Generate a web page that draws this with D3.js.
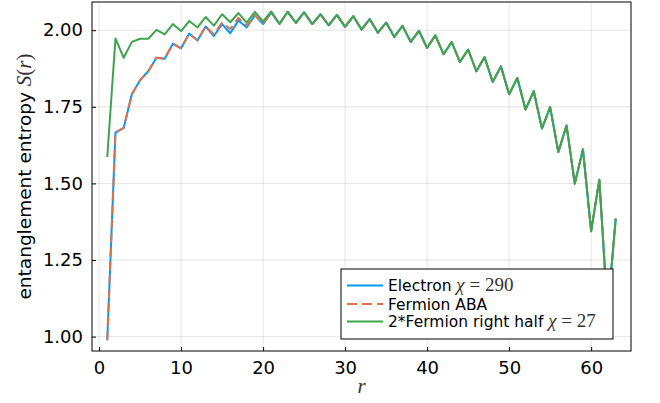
<!DOCTYPE html>
<html>
<head>
<meta charset="utf-8">
<script src="https://cdn.jsdelivr.net/npm/d3@7"></script>
<style>
  html, body { margin: 0; padding: 0; background: #fff; }
  svg { display: block; }
</style>
</head>
<body>
<div id="chart"></div>
<script>
// ---- data ----
const rValues = d3.range(1, 64);
const electron = [0.988,1.666,1.681,1.791,1.837,1.866,1.910,1.907,1.956,1.941,
  1.989,1.966,2.012,1.981,2.020,1.990,2.032,2.009,2.049,2.020,
  2.058,2.020,2.060,2.024,2.058,2.020,2.052,2.016,2.050,2.011,
  2.046,2.002,2.036,1.992,2.025,1.978,2.014,1.962,1.998,1.942,
  1.983,1.922,1.961,1.896,1.937,1.866,1.912,1.831,1.882,1.791,
  1.844,1.741,1.801,1.679,1.749,1.602,1.689,1.499,1.611,1.344,
  1.512,1.080,1.385];
const fermionABA = [0.988,1.666,1.681,1.791,1.837,1.866,1.910,1.907,1.956,1.941,
  1.989,1.967,2.013,1.986,2.025,2.004,2.040,2.015,2.049,2.020,
  2.058,2.020,2.060,2.024,2.058,2.020,2.052,2.016,2.050,2.011,
  2.046,2.002,2.036,1.992,2.025,1.978,2.014,1.962,1.998,1.942,
  1.983,1.922,1.961,1.896,1.937,1.866,1.912,1.831,1.882,1.791,
  1.844,1.741,1.801,1.679,1.749,1.602,1.689,1.499,1.611,1.344,
  1.512,1.080,1.385];
const fermionRightHalf = [1.586,1.973,1.910,1.962,1.972,1.972,2.001,1.986,2.020,1.997,
  2.030,2.009,2.043,2.015,2.052,2.026,2.056,2.025,2.060,2.029,
  2.061,2.021,2.060,2.024,2.058,2.020,2.052,2.016,2.050,2.011,
  2.046,2.002,2.036,1.992,2.025,1.978,2.014,1.962,1.998,1.942,
  1.983,1.922,1.961,1.896,1.937,1.866,1.912,1.831,1.882,1.791,
  1.844,1.741,1.801,1.679,1.749,1.602,1.689,1.499,1.611,1.344,
  1.512,1.080,1.385];
const xTicks = [0, 10, 20, 30, 40, 50, 60];
const yTicks = [1.00, 1.25, 1.50, 1.75, 2.00];
const seriesNames = ["Electron", "Fermion ABA", "2*Fermion right half"];
const seriesMath = ["290", null, "27"];

// ---- layout ----
const W = 660, H = 403;
const L = 92, R = 631, T = 2, B = 351;
const colors = ["#009AFA", "#E26F46", "#3EA44E"];

const svg = d3.select("#chart").append("svg")
  .attr("width", W).attr("height", H);

const x = d3.scaleLinear().domain([-0.86, 64.86]).range([L, R]);
const y = d3.scaleLinear().domain([0.953, 2.092]).range([B, T]);

// grid
const g = svg.append("g");
g.selectAll("line.gx").data(xTicks).join("line")
  .attr("x1", d => x(d)).attr("x2", d => x(d))
  .attr("y1", T).attr("y2", B)
  .attr("stroke", "#000").attr("stroke-opacity", 0.1).attr("stroke-width", 1);
g.selectAll("line.gy").data(yTicks).join("line")
  .attr("y1", d => y(d)).attr("y2", d => y(d))
  .attr("x1", L).attr("x2", R)
  .attr("stroke", "#000").attr("stroke-opacity", 0.1).attr("stroke-width", 1);

// lines
svg.append("clipPath").attr("id", "clip")
  .append("rect").attr("x", L).attr("y", T).attr("width", R - L).attr("height", B - T);
const line = d3.line().x((d, i) => x(rValues[i])).y(d => y(d));
const plot = svg.append("g").attr("clip-path", "url(#clip)");
[electron, fermionABA, fermionRightHalf].forEach((s, i) => {
  plot.append("path").datum(s)
    .attr("d", line)
    .attr("fill", "none")
    .attr("stroke", colors[i])
    .attr("stroke-width", 2)
    .attr("stroke-linejoin", "round")
    .attr("stroke-dasharray", i === 1 ? "9,5" : null);
});

// axes
const fontSans = "'DejaVu Sans', sans-serif";
const fontMath = "'Liberation Serif', serif";
const axL = svg.append("g").attr("transform", `translate(${L},0)`)
  .call(d3.axisLeft(y).tickValues(yTicks).tickFormat(d3.format(".2f")).tickSize(-4).tickPadding(9));
const axB = svg.append("g").attr("transform", `translate(0,${B})`)
  .call(d3.axisBottom(x).tickValues(xTicks).tickFormat(d3.format("d")).tickSize(-4).tickPadding(10));
[axL, axB].forEach(a => {
  a.select(".domain").remove();
  a.selectAll(".tick line").attr("stroke", "#000").attr("stroke-width", 1);
  a.selectAll(".tick text").attr("font-family", fontSans).attr("font-size", 18).attr("fill", "#000");
});

// frame
svg.append("rect").attr("x", L).attr("y", T).attr("width", R - L).attr("height", B - T)
  .attr("fill", "none").attr("stroke", "#000").attr("stroke-width", 1);

// axis labels
const yl = svg.append("text")
  .attr("transform", `translate(31,${(T + B) / 2}) rotate(-90)`)
  .attr("text-anchor", "middle")
  .attr("font-family", fontSans).attr("font-size", 18.5).attr("fill", "#000");
yl.append("tspan").text("entanglement entropy ");
yl.append("tspan").attr("font-family", fontMath).attr("font-style", "italic").attr("font-size", 21).attr("fill", "#333").text("S");
yl.append("tspan").attr("font-family", fontMath).attr("font-size", 21).attr("fill", "#333").text("(");
yl.append("tspan").attr("font-family", fontMath).attr("font-style", "italic").attr("font-size", 21).attr("fill", "#333").text("r");
yl.append("tspan").attr("font-family", fontMath).attr("font-size", 21).attr("fill", "#333").text(")");

svg.append("text").attr("x", (L + R) / 2).attr("y", 393)
  .attr("text-anchor", "middle")
  .attr("font-family", fontMath).attr("font-style", "italic")
  .attr("font-size", 21).attr("fill", "#333").text("r");

// legend
const lg = svg.append("g");
lg.append("rect").attr("x", 341).attr("y", 269).attr("width", 272).attr("height", 70)
  .attr("fill", "#fff").attr("stroke", "#000").attr("stroke-width", 1);
const rowY = [285.5, 304, 321.5];
seriesNames.forEach((name, i) => {
  lg.append("line").attr("x1", 347).attr("x2", 383).attr("y1", rowY[i]).attr("y2", rowY[i])
    .attr("stroke", colors[i]).attr("stroke-width", 2)
    .attr("stroke-dasharray", i === 1 ? "10,5" : null);
  const t = lg.append("text").attr("x", 388).attr("y", rowY[i] + 5.5)
    .attr("font-family", fontSans).attr("font-size", 15.5).attr("fill", "#000");
  t.append("tspan").text(name);
  if (seriesMath[i]) {
    t.append("tspan").attr("font-family", fontMath).attr("font-style", "italic")
      .attr("font-size", 19).attr("fill", "#333").text(" χ");
    t.append("tspan").attr("font-family", fontMath)
      .attr("font-size", 19).attr("fill", "#333").text(" = " + seriesMath[i]);
  }
});
</script>
</body>
</html>
